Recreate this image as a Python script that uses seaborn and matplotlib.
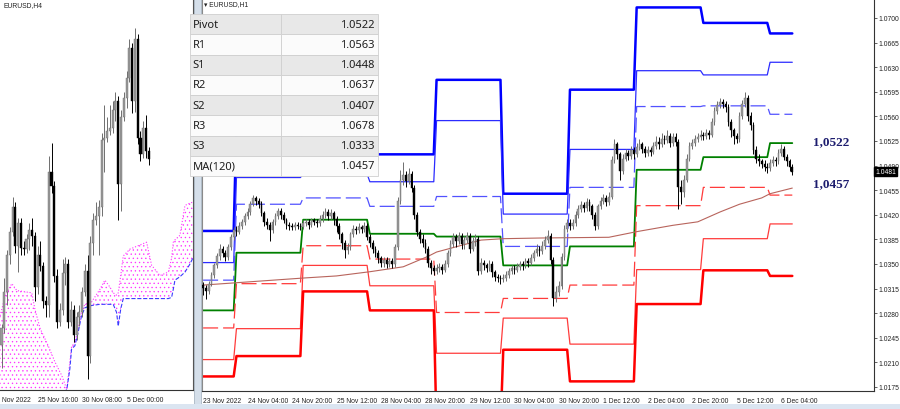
import numpy as np
import pandas as pd
import matplotlib
matplotlib.use("Agg")
import matplotlib.pyplot as plt
import matplotlib.transforms as mtrans
import seaborn as sns

# ---- DANE: EURUSD H1 (pipsy powyzej 1.0000) ----
h1_first_open = 320
h1_close = [
    316, 312, 322, 334, 348, 362, 372, 366, 360, 374, 388, 398,
    396, 404, 410, 418, 424, 436, 444, 440, 436, 422, 410, 406,
    398, 410, 418, 426, 420, 412, 406, 404, 402, 406, 404, 403,
    408, 410, 406, 412, 410, 408, 414, 420, 424, 418, 422, 414,
    404, 392, 380, 370, 374, 392, 400, 398, 402, 400, 404, 388,
    380, 372, 366, 358, 352, 356, 350, 354, 350, 374, 440, 470,
    476, 468, 478, 458, 420, 396, 386, 380, 372, 352, 344, 340,
    344, 346, 342, 350, 366, 378, 388, 382, 390, 378, 384, 390,
    372, 382, 386, 340, 352, 348, 344, 350, 338, 332, 330, 328,
    330, 334, 340, 344, 342, 346, 350, 348, 354, 352, 358, 366,
    372, 368, 376, 384, 390, 356, 302, 310, 318, 360, 400, 408,
    404, 408, 420, 428, 434, 430, 438, 432, 420, 404, 432, 440,
    444, 438, 446, 498, 520, 506, 482, 500, 508, 504, 512, 506,
    516, 520, 514, 508, 512, 510, 518, 524, 520, 528, 526, 532,
    522, 530, 524, 460, 452, 470, 500, 518, 522, 528, 530, 534,
    532, 536, 534, 552, 568, 576, 580, 578, 574, 552, 540, 532,
    528, 560, 578, 586, 560, 548, 512, 500, 496, 492, 488, 486,
    494, 498, 496, 508, 514, 502, 496, 488, 481,
]
h1_high = [
    324, 320, 326, 338, 352, 366, 378, 376, 370, 378, 392, 402,
    404, 410, 414, 422, 430, 440, 448, 447, 444, 440, 426, 416,
    410, 414, 422, 430, 430, 424, 416, 410, 408, 410, 410, 408,
    412, 414, 414, 416, 416, 414, 420, 426, 430, 428, 428, 426,
    418, 408, 396, 384, 380, 396, 406, 404, 408, 406, 410, 408,
    392, 384, 376, 370, 362, 360, 360, 358, 358, 378, 446, 484,
    495, 482, 486, 482, 462, 424, 400, 392, 386, 376, 356, 348,
    350, 352, 350, 356, 370, 384, 394, 392, 396, 394, 390, 396,
    394, 388, 392, 390, 358, 356, 352, 356, 354, 342, 336, 334,
    336, 340, 344, 348, 348, 352, 354, 354, 358, 358, 364, 370,
    378, 376, 382, 390, 398, 394, 360, 318, 326, 366, 406, 414,
    414, 414, 426, 434, 440, 438, 444, 442, 436, 424, 436, 446,
    450, 448, 452, 504, 528, 524, 510, 506, 514, 512, 518, 516,
    522, 528, 524, 518, 518, 516, 524, 532, 530, 536, 534, 540,
    536, 536, 536, 528, 470, 476, 506, 524, 528, 534, 536, 540,
    538, 542, 540, 558, 574, 582, 586, 585, 582, 578, 556, 544,
    536, 566, 584, 595, 590, 566, 552, 518, 506, 500, 498, 494,
    500, 504, 502, 514, 520, 518, 506, 500, 492,
]
h1_low = [
    306, 300, 308, 318, 330, 344, 356, 360, 354, 356, 370, 384,
    390, 392, 400, 406, 414, 420, 432, 434, 430, 418, 404, 400,
    383, 394, 406, 414, 414, 408, 400, 398, 398, 398, 400, 398,
    400, 404, 400, 402, 406, 402, 404, 410, 416, 412, 414, 406,
    396, 386, 372, 358, 364, 370, 388, 392, 394, 394, 396, 384,
    374, 366, 360, 352, 346, 346, 344, 346, 344, 346, 370, 436,
    462, 460, 464, 452, 414, 390, 380, 374, 366, 346, 336, 334,
    336, 338, 336, 338, 346, 362, 374, 374, 378, 372, 372, 380,
    366, 368, 376, 334, 336, 342, 338, 340, 332, 326, 324, 322,
    324, 326, 330, 336, 336, 338, 342, 342, 344, 346, 348, 354,
    362, 362, 364, 372, 380, 350, 290, 296, 304, 314, 356, 396,
    398, 400, 404, 416, 424, 424, 426, 426, 414, 398, 400, 428,
    436, 432, 434, 442, 494, 500, 470, 478, 496, 498, 500, 500,
    502, 512, 508, 502, 504, 504, 506, 514, 514, 516, 520, 522,
    516, 518, 518, 428, 436, 446, 466, 496, 514, 518, 524, 526,
    526, 528, 528, 530, 548, 564, 572, 572, 566, 546, 530, 521,
    522, 524, 556, 574, 554, 540, 506, 494, 490, 486, 482, 480,
    482, 490, 490, 492, 504, 498, 490, 482, 476,
]

# ---- dzienne poziomy pivot (D0 = 23 Nov ... D9 = 6 Dec) ----
day_start = [0, 12, 36, 60, 84, 108, 132, 156, 180, 204]
last_bar = 212
piv_P  = [1.0284, 1.0366, 1.0413, 1.0393, 1.0389, 1.0348, 1.0375, 1.0484, 1.0502, 1.0522]
piv_R1 = [1.0327, 1.0435, 1.0444, 1.0432, 1.0446, 1.0375, 1.0459, 1.0574, 1.0575, 1.0563]
piv_R2 = [1.0352, 1.0473, 1.0478, 1.0467, 1.0554, 1.0421, 1.0513, 1.0625, 1.0619, 1.0637]
piv_R3 = [1.0397, 1.0548, 1.0509, 1.0506, 1.0612, 1.0450, 1.0598, 1.0715, 1.0693, 1.0678]
piv_S1 = [1.0259, 1.0322, 1.0376, 1.0357, 1.0281, 1.0301, 1.0320, 1.0433, 1.0459, 1.0448]
piv_S2 = [1.0214, 1.0258, 1.0348, 1.0319, 1.0223, 1.0273, 1.0236, 1.0342, 1.0386, 1.0407]
piv_S3 = [1.0190, 1.0219, 1.0311, 1.0284, 1.0115, 1.0228, 1.0183, 1.0293, 1.0341, 1.0333]

# MA(120) odczytana w kilku punktach
ma_bar = [0, 36, 48, 60, 72, 81, 84, 100, 108, 122, 146, 156, 169, 178, 186, 193, 201, 204, 212]
ma_val = [320, 330, 333, 339, 346, 361, 367, 384, 386, 387, 388, 396, 405, 410, 424, 435, 444, 450, 458]

# chmura Ichimoku na H4 (pozycja w barach H4, pipsy)
kumo_pos = [-0.5, 1.3, 3.7, 5.5, 10.9, 12.0, 13.9, 16.8, 19.2, 21.7, 23.5, 24.6, 25.2,
            26.4, 27.6, 28.8, 30.0, 32.4, 35.4, 37.2, 39.0, 40.2, 41.4, 42.0, 42.9,
            43.8, 46.2, 52.2, 54.0, 57.0, 60.0, 61.2, 61.8, 62.4, 64.2, 66.0, 67.8, 69.0]
kumo_a = [345, 362, 373, 367, 365, 351, 334, 319, 305, 293, 281, 305, 318, 322, 334, 348,
          355, 357, 368, 376, 370, 365, 363, 365, 380, 397, 403, 409, 389, 380, 383, 395,
          409, 411, 415, 441, 443, 444]
kumo_b = [250, 250, 252, 254, 258, 260, 263, 268, 272, 276, 281, 299, 316, 319, 331, 345,
          352, 354, 355, 355, 355, 355, 348, 336, 351, 360, 360, 360, 360, 360, 360, 361,
          368, 376, 379, 383, 390, 396]

# tabela
tab_labels = ["Pivot", "R1", "S1", "R2", "S2", "R3", "S3", "MA(120)"]
tab_values = ["1.0522", "1.0563", "1.0448", "1.0637", "1.0407", "1.0678", "1.0333", "1.0457"]

h1_tick_pos = [0, 16, 32, 48, 64, 80, 96, 112, 128, 144, 160, 176, 192, 208]
h1_tick_lab = ["23 Nov 2022", "24 Nov 04:00", "24 Nov 20:00", "25 Nov 12:00", "28 Nov 04:00",
               "28 Nov 20:00", "29 Nov 12:00", "30 Nov 04:00", "30 Nov 20:00", "1 Dec 12:00",
               "2 Dec 04:00", "2 Dec 20:00", "5 Dec 12:00", "6 Dec 04:00"]
h4_tick_pos = [0, 13, 29, 45]
h4_tick_lab = ["Nov 2022", "25 Nov 16:00", "30 Nov 08:00", "5 Dec 00:00"]
price_ticks = [1.0175, 1.0210, 1.0245, 1.0280, 1.0315, 1.0350, 1.0385, 1.0420,
               1.0455, 1.0490, 1.0525, 1.0560, 1.0595, 1.0630, 1.0665, 1.0700]
last_price = 1.0481

# ---- przygotowanie ----
pip = 1e-4
h1 = pd.DataFrame({
    "c": np.array(h1_close) * pip + 1,
    "h": np.array(h1_high) * pip + 1,
    "l": np.array(h1_low) * pip + 1,
})
h1["o"] = h1["c"].shift(1).fillna(1 + h1_first_open * pip)
h1["bar"] = np.arange(len(h1))
h4 = h1.groupby(h1["bar"] // 4).agg(o=("o", "first"), h=("h", "max"),
                                     l=("l", "min"), c=("c", "last")).reset_index(drop=True)
h4["bar"] = np.arange(len(h4))

sns.set_theme(style="white")
plt.rcParams["font.family"] = ["Liberation Sans", "DejaVu Sans"]
plt.rcParams["hatch.linewidth"] = 0.45
plt.rcParams["hatch.color"] = "#ff33ff"

fig = plt.figure(figsize=(9, 4.1), dpi=100)
fig.patch.set_facecolor("white")
W, H = 900, 410
TICK_FS = 4.9


def candles(ax, df, width):
    up = df["c"] >= df["o"]
    dn = ~up
    ax.vlines(df["bar"][up], df["l"][up], df["h"][up], color="#6e6e6e", lw=0.7, zorder=3)
    ax.vlines(df["bar"][dn], df["l"][dn], df["h"][dn], color="black", lw=0.7, zorder=3)
    ax.bar(df["bar"][up], (df["c"] - df["o"])[up], bottom=df["o"][up], width=width,
           color="#9a9a9a", edgecolor="#6e6e6e", lw=0.3, zorder=4)
    ax.bar(df["bar"][dn], (df["o"] - df["c"])[dn], bottom=df["c"][dn], width=width,
           color="black", edgecolor="black", lw=0.3, zorder=4)


def level_xy(vals):
    xs, ys = [], []
    for k, v in enumerate(vals):
        end = day_start[k + 1] - 1 if k + 1 < len(day_start) else last_bar
        xs += [day_start[k], end]
        ys += [v, v]
    return xs, ys


# ---- lewy panel: H4 ----
ax_l = fig.add_axes([0, 19 / H, 193 / W, 391 / H])
ax_l.set_facecolor("white")
ax_l.fill_between(kumo_pos, np.array(kumo_a) * pip + 1, np.array(kumo_b) * pip + 1,
                  facecolor="none", edgecolor="#ff33ff", hatch="....", lw=0, zorder=1)
sns.lineplot(x=kumo_pos, y=np.array(kumo_a) * pip + 1, ax=ax_l, color="#ff33ff",
             lw=0.8, linestyle=":", sort=False, estimator=None, zorder=2)
sns.lineplot(x=kumo_pos, y=np.array(kumo_b) * pip + 1, ax=ax_l, color="#3b3bff",
             lw=0.8, linestyle="--", sort=False, estimator=None, zorder=2)
candles(ax_l, h4, 0.75)
ax_l.set_xlim(-0.54, 68.9)
ax_l.set_ylim(1.02805, 1.06205)
ax_l.set_yticks([])
ax_l.set_xticks(h4_tick_pos)
ax_l.set_xticklabels(h4_tick_lab, ha="left")
ax_l.tick_params(axis="x", direction="out", length=2.5, width=0.5, pad=1.5,
                 labelsize=TICK_FS, colors="#222222")
for s in ["top", "left"]:
    ax_l.spines[s].set_visible(False)
ax_l.spines["right"].set_color("#555555")
ax_l.spines["bottom"].set_color("#333333")
ax_l.spines["right"].set_linewidth(0.8)
ax_l.spines["bottom"].set_linewidth(0.8)

# ---- prawy panel: H1 ----
ax = fig.add_axes([202 / W, 18 / H, 672 / W, 392 / H])
ax.set_facecolor("white")
styles = [
    (piv_R3, "#0000ff", 1.8, None),
    (piv_R2, "#2b2bff", 0.9, None),
    (piv_R1, "#5252ff", 0.9, (12, 4)),
    (piv_P, "#008000", 1.3, None),
    (piv_S1, "#ff3b3b", 0.9, (12, 4)),
    (piv_S2, "#ff3b3b", 0.9, None),
    (piv_S3, "#ff0000", 1.8, None),
]
for vals, col, lw, dash in styles:
    xs, ys = level_xy(vals)
    sns.lineplot(x=xs, y=ys, ax=ax, color=col, lw=lw, sort=False, estimator=None, zorder=2)
    if dash is not None:
        ax.lines[-1].set_dashes(dash)
sns.lineplot(x=ma_bar, y=np.array(ma_val) * pip + 1, ax=ax, color="#b8645c", lw=0.8,
             sort=False, estimator=None, zorder=2)
candles(ax, h1, 0.62)

ax.set_xlim(-0.4, 241.4)
ax.set_ylim(1.01693, 1.07270)
ax.yaxis.tick_right()
ax.set_yticks(price_ticks)
ax.set_yticklabels([f"{p:.4f}" for p in price_ticks])
ax.set_xticks(h1_tick_pos)
ax.set_xticklabels(h1_tick_lab, ha="left")
ax.tick_params(axis="y", direction="out", length=2.5, width=0.5, pad=1.0,
               labelsize=TICK_FS, colors="#222222")
ax.tick_params(axis="x", direction="out", length=2.5, width=0.5, pad=1.5,
               labelsize=TICK_FS, colors="#222222")
ax.spines["top"].set_visible(False)
ax.spines["left"].set_color("#8a8a8a")
ax.spines["left"].set_linewidth(0.8)
for s in ["right", "bottom"]:
    ax.spines[s].set_color("#333333")
    ax.spines[s].set_linewidth(0.8)

# etykiety poziomow
ax.text(219.4, 1.0525, "1,0522", color="#1c1c6e", fontsize=9.5, fontweight="bold",
        family="Liberation Serif", va="center", ha="left")
ax.text(219.4, 1.04653, "1,0457", color="#1c1c6e", fontsize=9.5, fontweight="bold",
        family="Liberation Serif", va="center", ha="left")

# biezaca cena
tr = mtrans.blended_transform_factory(ax.transAxes, ax.transData)
ax.text(1.002, last_price, f"{last_price:.4f}", transform=tr, color="white", fontsize=TICK_FS,
        va="center", ha="left",
        bbox=dict(boxstyle="square,pad=0.15", facecolor="black", edgecolor="black"))

# ---- ramki okien ----
fig.add_artist(plt.Rectangle((194 / W, 5 / H), 7 / W, 1 - 5 / H, transform=fig.transFigure,
                             facecolor="#d5dfea", edgecolor="#a9b6c4", lw=0.6, zorder=0))
fig.add_artist(plt.Rectangle((0, 0), 1, 5 / H, transform=fig.transFigure,
                             facecolor="#dbe5f1", edgecolor="none", zorder=0))
fig.text(3 / W, 1 - 6 / H, "EURUSD,H4", fontsize=TICK_FS, color="#222222", va="center")
fig.text(204 / W, 1 - 5 / H, "\u25be EURUSD,H1", fontsize=TICK_FS, color="#222222",
         va="center", family=["Liberation Sans", "DejaVu Sans"])

# ---- tabela ----
ax_t = fig.add_axes([190 / W, (H - 177) / H, 188 / W, 162 / H])
ax_t.axis("off")
tbl = ax_t.table(cellText=[[a, b] for a, b in zip(tab_labels, tab_values)],
                 colWidths=[91 / 188, 97 / 188], bbox=[0, 0, 1, 1])
tbl.auto_set_font_size(False)
for (r, c), cell in tbl.get_celld().items():
    cell.set_facecolor("#e8e8e8" if r % 2 == 0 else "#fbfbfb")
    cell.set_edgecolor("#cfcfcf")
    cell.set_linewidth(0.6)
    txt = cell.get_text()
    txt.set_fontsize(8)
    txt.set_family("Noto Sans")
    txt.set_color("#1e1e1e")
    if c == 0:
        cell._loc = "left"
        txt.set_horizontalalignment("left")
        cell.PAD = 0.03
    else:
        cell._loc = "right"
        txt.set_horizontalalignment("right")
        cell.PAD = 0.04

fig.savefig("out.png", dpi=100, facecolor="white")
